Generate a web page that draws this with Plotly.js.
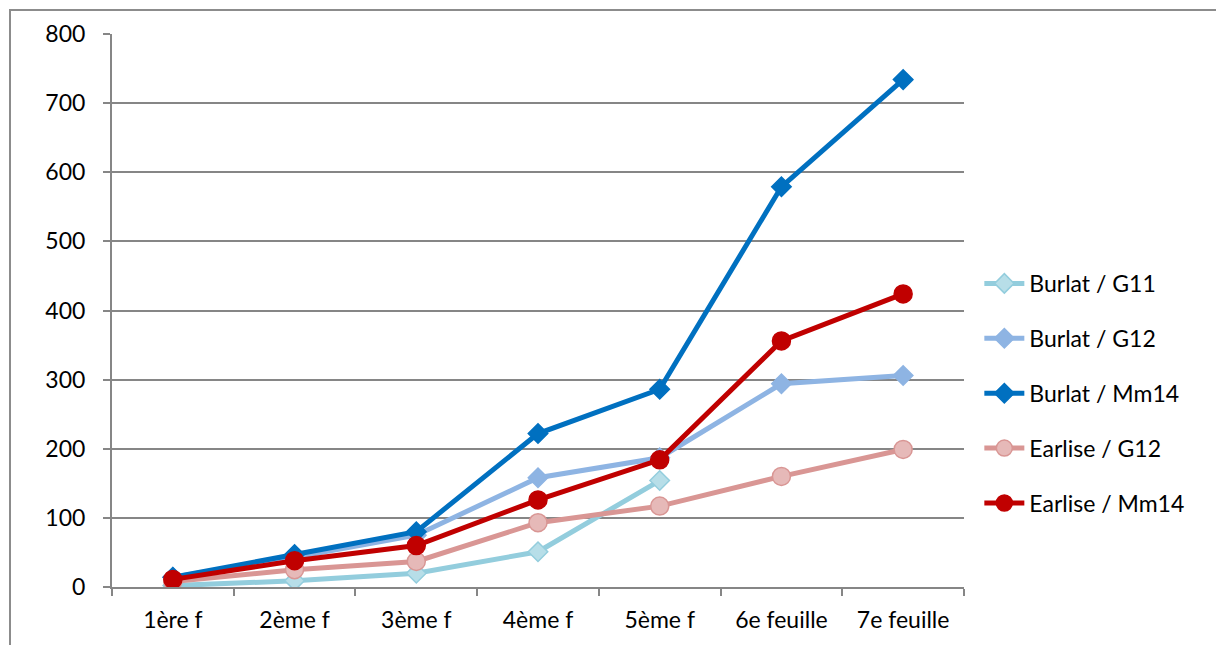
<!DOCTYPE html>
<html>
<head>
<meta charset="utf-8">
<script src="https://cdn.plot.ly/plotly-3.0.1.min.js"></script>
<style>
  html, body { margin: 0; padding: 0; background: #fff; overflow: hidden; }
  #frame { position: absolute; left: 9px; top: 9px; width: 3000px; height: 3000px;
           border-left: 2px solid #8c8c8c; border-top: 2px solid #8c8c8c; }
  #chart { position: absolute; left: 0; top: 0; width: 1216px; height: 645px; }
</style>
</head>
<body>
<div id="frame"></div>
<div id="chart"></div>
<script>
// Leaf stages (x categories)
const stages = ["1ère f", "2ème f", "3ème f", "4ème f", "5ème f", "6e feuille", "7e feuille"];

// Values per variety / rootstock combination
const burlatG11  = [2, 9, 20, 51, 154, null, null];
const burlatG12  = [14, 43, 75, 158, 187, 294, 306];
const burlatMm14 = [14, 47, 80, 222, 286, 579, 734];
const earliseG12 = [8, 25, 37, 93, 117, 160, 199];
const earliseMm14 = [11, 38, 60, 126, 184, 356, 424];

const seriesNames = ["Burlat / G11", "Burlat / G12", "Burlat / Mm14", "Earlise / G12", "Earlise / Mm14"];

const font = "Lato, Calibri, 'Open Sans', sans-serif";

function trace(name, ys, lineColor, symbol, fillColor, edgeColor, size) {
  return {
    type: "scatter", mode: "lines+markers", name: name, legendgroup: name,
    x: stages, y: ys,
    line: { color: lineColor, width: 5 },
    marker: { symbol: symbol, size: size, color: fillColor,
              line: { color: edgeColor, width: 1.5 } },
    connectgaps: false
  };
}

const data = [
  trace(seriesNames[0], burlatG11, "#93CDDD", "diamond", "#B7DEE8", "#93CDDD", 15),
  trace(seriesNames[1], burlatG12, "#8EB4E3", "diamond", "#8EB4E3", "#8EB4E3", 15),
  trace(seriesNames[2], burlatMm14, "#0070C0", "diamond", "#0070C0", "#0070C0", 15),
  trace(seriesNames[3], earliseG12, "#D99694", "circle", "#E6B9B8", "#D99694", 18),
  trace(seriesNames[4], earliseMm14, "#C00000", "circle", "#C00000", "#C00000", 18)
];

const layout = {
  width: 1216, height: 645,
  margin: { l: 112, r: 252, t: 34, b: 58 },
  paper_bgcolor: "rgba(0,0,0,0)",
  plot_bgcolor: "rgba(0,0,0,0)",
  font: { family: font, size: 23, color: "#000" },
  showlegend: true,
  legend: {
    x: 1.018, xanchor: "left", y: 0.35, yanchor: "middle",
    font: { family: font, size: 23, color: "#000" },
    tracegroupgap: 22, itemwidth: 40,
    bgcolor: "rgba(0,0,0,0)"
  },
  xaxis: {
    type: "category",
    range: [-0.5, 6.5],
    tickson: "boundaries",
    ticks: "outside", ticklen: 7, tickcolor: "#868686", tickwidth: 2,
    showgrid: false,
    showline: true, linecolor: "#868686", linewidth: 2,
    tickfont: { family: font, size: 23, color: "#000" },
    ticklabelstandoff: 11,
    zeroline: false
  },
  yaxis: {
    range: [0, 800],
    tickvals: [0, 100, 200, 300, 400, 500, 600, 700, 800],
    ticks: "outside", ticklen: 7, tickcolor: "#868686", tickwidth: 2,
    showgrid: true, gridcolor: "#868686", gridwidth: 2,
    showline: true, linecolor: "#868686", linewidth: 2,
    zeroline: false,
    tickfont: { family: font, size: 23, color: "#000" },
    ticklabelstandoff: 13
  }
};

Plotly.newPlot("chart", data, layout, { displayModeBar: false, staticPlot: true });
</script>
</body>
</html>
